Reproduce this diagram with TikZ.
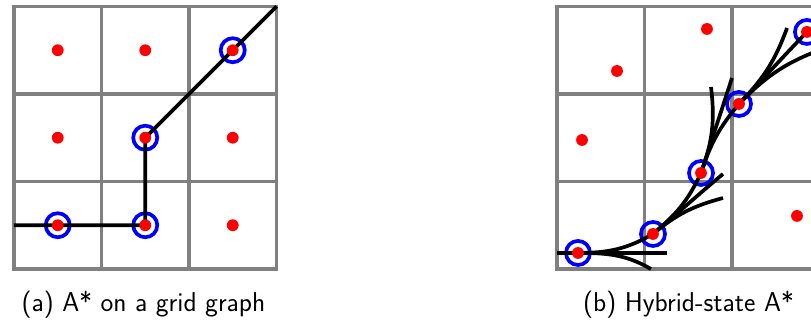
\documentclass[tikz,border=0pt]{standalone}
\begin{document}
\begin{tikzpicture}[x=2cm,y=2cm,
        cell/.style={draw=gray,line width=2.2pt},
        route/.style={line width=2.4pt},
        dot/.style={circle,fill=red,inner sep=0pt,minimum size=0.27cm},
        ring/.style={circle,draw=blue,line width=2.4pt,inner sep=0pt,minimum size=0.55cm},
        caption/.style={font=\sffamily\fontsize{17.7}{21}\selectfont,inner sep=0pt,anchor=base}]
    \clip (-0.16,-0.583) rectangle (9.109,3.074);
    % (a) grid graph
    \draw[cell] (0,0) rectangle (3,3);
    \draw[cell,step=1] (0,0) grid (3,3);
    \foreach \i in {0,1,2}{
        \foreach \j in {0,1,2}{
            \coordinate (g\i\j) at (\i+0.5,\j+0.5);
        }
    }
    \coordinate (lstart) at (0,0.5);
    \coordinate (lend) at (3,3);
    \foreach \n in {g00,g10,g11,g22}{
        \node[ring] at (\n) {};
    }
    \draw[route] (lstart) -- (g00) -- (g10) -- (g11) -- (g22) -- (lend);
    \foreach \i in {0,1,2}{
        \foreach \j in {0,1,2}{
            \node[dot] (d\i\j) at (g\i\j) {};
        }
    }
    \node[caption] (capa) at (1.48,-0.491) {(a) A* on a grid graph};
    % (b) hybrid-state
    \begin{scope}[shift={(6.206,0)}]
        \draw[cell] (0,0) rectangle (3,3);
        \draw[cell,step=1] (0,0) grid (3,3);
        \coordinate (hA) at (0.24,0.183);
        \coordinate (hB) at (1.097,0.4);
        \coordinate (hC) at (1.646,1.097);
        \coordinate (hD) at (2.08,1.886);
        \coordinate (hE) at (2.857,2.709);
        \coordinate (a0) at (0,0.183);
        \coordinate (a1) at (1.257,0.183);
        \coordinate (a2) at (1.074,0.0);
        \coordinate (b1) at (1.897,1.086);
        \coordinate (b2) at (1.897,0.811);
        \coordinate (c1) at (2.0,2.183);
        \coordinate (c2) at (1.76,2.08);
        \coordinate (d1) at (2.629,2.754);
        \coordinate (d2) at (3.05,2.52);
        \foreach \n in {hA,hB,hC,hD,hE}{
            \node[ring] at (\n) {};
        }
        \draw[route] (a0) -- (a1);
        \draw[route] (hA) to[out=0,in=210] (hB);
        \draw[route] (hA) to[out=0,in=150] (a2);
        \draw[route] (hB) to[out=40,in=245] (hC);
        \draw[route] (hB) to[out=40,in=220] (b1);
        \draw[route] (hB) to[out=40,in=195] (b2);
        \draw[route] (hC) to[out=72,in=230] (hD);
        \draw[route] (hC) to[out=72,in=252] (c1);
        \draw[route] (hC) to[out=70,in=-83] (c2);
        \draw[route] (hD) to[out=46,in=250] (d1);
        \draw[route] (hD) to[out=46,in=226] (hE);
        \draw[route] (hD) to[out=46,in=200] (d2);
        \foreach \n in {hA,hB,hC,hD,hE}{
            \node[dot] at (\n) {};
        }
        \node[dot] (p1) at (1.714,2.743) {};
        \node[dot] (p2) at (0.686,2.263) {};
        \node[dot] (p3) at (0.286,1.474) {};
        \node[dot] (p4) at (2.743,0.606) {};
    \end{scope}
    \node[caption] (capb) at (7.709,-0.491) {(b) Hybrid-state A*};
\end{tikzpicture}
\end{document}
